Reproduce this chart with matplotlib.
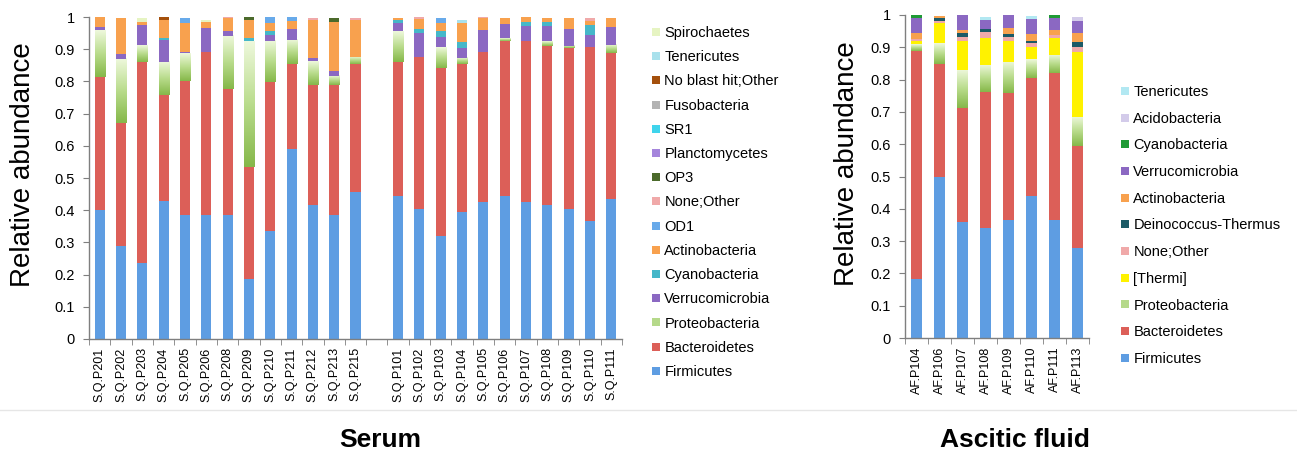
import numpy as np
import matplotlib
matplotlib.use('Agg')
import matplotlib.pyplot as plt
from matplotlib.lines import Line2D
from matplotlib.colors import LinearSegmentedColormap

plt.rcParams['font.family'] = ['Liberation Sans', 'DejaVu Sans']

# 血清样本
serum_samples = ['S.Q.P201', 'S.Q.P202', 'S.Q.P203', 'S.Q.P204', 'S.Q.P205', 'S.Q.P206', 'S.Q.P208',
                 'S.Q.P209', 'S.Q.P210', 'S.Q.P211', 'S.Q.P212', 'S.Q.P213', 'S.Q.P215',
                 'S.Q.P101', 'S.Q.P102', 'S.Q.P103', 'S.Q.P104', 'S.Q.P105', 'S.Q.P106', 'S.Q.P107',
                 'S.Q.P108', 'S.Q.P109', 'S.Q.P110', 'S.Q.P111']
s_firmicutes = [0.40, 0.29, 0.235, 0.43, 0.385, 0.385, 0.385, 0.185, 0.335, 0.59, 0.415, 0.385, 0.455,
                0.445, 0.405, 0.32, 0.395, 0.425, 0.445, 0.425, 0.415, 0.405, 0.365, 0.435]
s_bacteroidetes = [0.415, 0.38, 0.625, 0.328, 0.416, 0.507, 0.391, 0.35, 0.462, 0.263, 0.374, 0.404, 0.398,
                   0.416, 0.472, 0.523, 0.458, 0.467, 0.48, 0.50, 0.496, 0.498, 0.543, 0.452]
s_proteobacteria = [0.145, 0.20, 0.052, 0.103, 0.086, 0.0, 0.166, 0.39, 0.128, 0.076, 0.074, 0.029, 0.024,
                    0.096, 0.0, 0.065, 0.019, 0.0, 0.009, 0.0, 0.014, 0.007, 0.0, 0.026]
s_verrucomicrobia = [0.01, 0.015, 0.062, 0.068, 0.005, 0.073, 0.015, 0.0, 0.019, 0.034, 0.01, 0.015, 0.0,
                     0.023, 0.072, 0.031, 0.033, 0.068, 0.043, 0.048, 0.048, 0.053, 0.036, 0.057]
s_cyanobacteria = [0.0, 0.0, 0.0, 0.007, 0.0, 0.0, 0.0, 0.009, 0.013, 0.0, 0.0, 0.0, 0.0,
                   0.01, 0.014, 0.016, 0.016, 0.0, 0.0, 0.01, 0.01, 0.0, 0.031, 0.0]
s_actinobacteria = [0.03, 0.113, 0.012, 0.055, 0.09, 0.02, 0.04, 0.056, 0.023, 0.025, 0.117, 0.15, 0.113,
                    0.008, 0.03, 0.025, 0.06, 0.036, 0.02, 0.017, 0.013, 0.033, 0.012, 0.028]
s_od1 = [0.0, 0.0, 0.0, 0.0, 0.015, 0.0, 0.0, 0.0, 0.02, 0.012, 0.0, 0.0, 0.0,
         0.0, 0.0, 0.018, 0.0, 0.0, 0.0, 0.0, 0.0, 0.0, 0.0, 0.0]
s_none_other = [0.0, 0.0, 0.0, 0.0, 0.0, 0.0, 0.003, 0.0, 0.0, 0.0, 0.008, 0.0, 0.008,
                0.0, 0.006, 0.0, 0.0, 0.004, 0.0, 0.0, 0.0, 0.0, 0.011, 0.0]
s_op3 = [0.0, 0.0, 0.0, 0.0, 0.0, 0.0, 0.0, 0.01, 0.0, 0.0, 0.0, 0.015, 0.0,
         0.0, 0.0, 0.0, 0.0, 0.0, 0.0, 0.0, 0.0, 0.0, 0.0, 0.0]
s_planctomycetes = [0.0] * 24
s_sr1 = [0.0] * 24
s_fusobacteria = [0.0] * 24
s_noblast = [0.0, 0.0, 0.0, 0.009, 0.0, 0.0, 0.0, 0.0, 0.0, 0.0, 0.0, 0.0, 0.0,
             0.0, 0.0, 0.0, 0.0, 0.0, 0.0, 0.0, 0.0, 0.0, 0.0, 0.0]
s_tenericutes = [0.0, 0.0, 0.0, 0.0, 0.0, 0.0, 0.0, 0.0, 0.0, 0.0, 0.0, 0.0, 0.0,
                 0.0, 0.0, 0.0, 0.01, 0.0, 0.0, 0.0, 0.0, 0.0, 0.0, 0.0]
s_spirochaetes = [0.0, 0.0, 0.01, 0.0, 0.0, 0.005, 0.0, 0.0, 0.0, 0.0, 0.0, 0.0, 0.0,
                  0.0, 0.0, 0.0, 0.0, 0.0, 0.0, 0.0, 0.0, 0.0, 0.0, 0.0]

# 腹水样本
af_samples = ['AF.P104', 'AF.P106', 'AF.P107', 'AF.P108', 'AF.P109', 'AF.P110', 'AF.P111', 'AF.P113']
a_firmicutes = [0.184, 0.498, 0.359, 0.342, 0.366, 0.441, 0.365, 0.28]
a_bacteroidetes = [0.705, 0.349, 0.352, 0.419, 0.392, 0.365, 0.455, 0.315]
a_proteobacteria = [0.021, 0.065, 0.119, 0.084, 0.098, 0.058, 0.056, 0.09]
a_thermi = [0.01, 0.062, 0.088, 0.083, 0.062, 0.038, 0.052, 0.20]
a_none_other = [0.005, 0.008, 0.015, 0.018, 0.015, 0.01, 0.01, 0.015]
a_deinococcus = [0.0, 0.008, 0.012, 0.012, 0.007, 0.007, 0.0, 0.015]
a_actinobacteria = [0.02, 0.008, 0.008, 0.0, 0.02, 0.021, 0.016, 0.03]
a_verrucomicrobia = [0.045, 0.0, 0.047, 0.027, 0.04, 0.048, 0.036, 0.035]
a_cyanobacteria = [0.01, 0.0, 0.0, 0.0, 0.0, 0.0, 0.01, 0.0]
a_acidobacteria = [0.0, 0.0, 0.0, 0.0, 0.0, 0.0, 0.0, 0.015]
a_tenericutes = [0.0, 0.0, 0.0, 0.01, 0.0, 0.01, 0.0, 0.0]

# 从下往上堆叠的顺序
serum_series = [
    ('Firmicutes', s_firmicutes, '#5e9de2'),
    ('Bacteroidetes', s_bacteroidetes, '#dc5f58'),
    ('Proteobacteria', s_proteobacteria, '#b5d98a'),
    ('Verrucomicrobia', s_verrucomicrobia, '#8b68c2'),
    ('Cyanobacteria', s_cyanobacteria, '#45b7c9'),
    ('Actinobacteria', s_actinobacteria, '#f8a14e'),
    ('OD1', s_od1, '#68aaea'),
    ('None;Other', s_none_other, '#f0a9a9'),
    ('OP3', s_op3, '#4b6a2b'),
    ('Planctomycetes', s_planctomycetes, '#a585dc'),
    ('SR1', s_sr1, '#3fd4ec'),
    ('Fusobacteria', s_fusobacteria, '#b3b3b3'),
    ('No blast hit;Other', s_noblast, '#a4500c'),
    ('Tenericutes', s_tenericutes, '#a9e1ec'),
    ('Spirochaetes', s_spirochaetes, '#e6f4c2'),
]
af_series = [
    ('Firmicutes', a_firmicutes, '#5e9de2'),
    ('Bacteroidetes', a_bacteroidetes, '#dc5f58'),
    ('Proteobacteria', a_proteobacteria, '#b5d98a'),
    ('[Thermi]', a_thermi, '#fff200'),
    ('None;Other', a_none_other, '#f0a9a9'),
    ('Deinococcus-Thermus', a_deinococcus, '#1c5a66'),
    ('Actinobacteria', a_actinobacteria, '#f8a14e'),
    ('Verrucomicrobia', a_verrucomicrobia, '#8b68c2'),
    ('Cyanobacteria', a_cyanobacteria, '#1f9a35'),
    ('Acidobacteria', a_acidobacteria, '#d3cbea'),
    ('Tenericutes', a_tenericutes, '#b2e8f2'),
]

# Proteobacteria 的渐变填充：底部深绿，顶部浅
green_cmap = LinearSegmentedColormap.from_list('pg', ['#86b84a', '#b9dc8c', '#eef8dc'])

W, H = 1297, 454
fig = plt.figure(figsize=(W / 100, H / 100), dpi=100)


def draw_stack(ax, positions, series, width):
    bottom = np.zeros(len(positions))
    grad = np.linspace(0, 1, 64).reshape(-1, 1)
    for name, vals, color in series:
        vals = np.array(vals)
        bars = ax.bar(positions, vals, width=width, bottom=bottom, color=color, linewidth=0)
        if name == 'Proteobacteria':
            for b in bars:
                if b.get_height() <= 0:
                    continue
                b.set_facecolor('none')
                x0, y0 = b.get_x(), b.get_y()
                ax.imshow(grad, cmap=green_cmap, origin='lower', aspect='auto', interpolation='bilinear',
                          extent=(x0, x0 + b.get_width(), y0, y0 + b.get_height()), zorder=b.get_zorder())
        bottom += vals


def style_axis(ax, positions, labels, nslots):
    ax.set_xlim(-0.5, nslots - 0.5)
    ax.set_ylim(0, 1)
    for s in ['top', 'right']:
        ax.spines[s].set_visible(False)
    for s in ['left', 'bottom']:
        ax.spines[s].set_color('#7f7f7f')
        ax.spines[s].set_linewidth(1.0)
    ax.set_yticks(np.arange(0, 1.01, 0.1))
    ax.set_yticklabels(['0'] + ['%.1f' % v for v in np.arange(0.1, 0.95, 0.1)] + ['1'], fontsize=10.5)
    ax.tick_params(axis='y', direction='out', length=4, color='#7f7f7f', pad=6)
    ax.set_xticks(positions)
    ax.set_xticklabels(labels, rotation=90, fontsize=9)
    ax.tick_params(axis='x', which='major', length=0, pad=6)
    ax.set_xticks(np.arange(-0.5, nslots, 1.0), minor=True)
    ax.tick_params(axis='x', which='minor', direction='out', length=4, color='#7f7f7f')
    ax.set_ylabel('Relative abundance', fontsize=20)


def add_legend(series, x, y, spacing):
    handles = [Line2D([0], [0], marker='s', linestyle='', markersize=6,
                      markerfacecolor=c, markeredgewidth=0) for _, _, c in series[::-1]]
    labels = [n for n, _, _ in series[::-1]]
    fig.legend(handles, labels, loc='upper left', bbox_to_anchor=(x / W, 1 - y / H),
               frameon=False, fontsize=10.5, handlelength=0.6, handletextpad=0.25,
               labelspacing=spacing, borderpad=0, borderaxespad=0)


# 左图：血清
ax1 = fig.add_axes([89 / W, 1 - 339 / H, 533 / W, 322 / H])
serum_pos = list(range(13)) + list(range(14, 25))
draw_stack(ax1, serum_pos, serum_series, 0.47)
style_axis(ax1, serum_pos, serum_samples, 25)
ax1.yaxis.set_label_coords(-(89 - 36) / 533, 0.54)
add_legend(serum_series, 652, 26, 0.7)

# 右图：腹水
ax2 = fig.add_axes([905 / W, 1 - 338 / H, 184 / W, 323 / H])
af_pos = list(range(8))
draw_stack(ax2, af_pos, af_series, 0.46)
style_axis(ax2, af_pos, af_samples, 8)
ax2.yaxis.set_label_coords(-(905 - 860) / 184, 0.54)
add_legend(af_series, 1121, 85, 0.87)

# 分隔线和标题
fig.add_artist(Line2D([0, 1], [1 - 410 / H, 1 - 410 / H], color='#e6e6e6', linewidth=1))
fig.text(380 / W, 1 - 440 / H, 'Serum', ha='center', va='center', fontsize=19, fontweight='bold')
fig.text(1015 / W, 1 - 440 / H, 'Ascitic fluid', ha='center', va='center', fontsize=19, fontweight='bold')

fig.savefig('out.png', dpi=100, facecolor='white')
